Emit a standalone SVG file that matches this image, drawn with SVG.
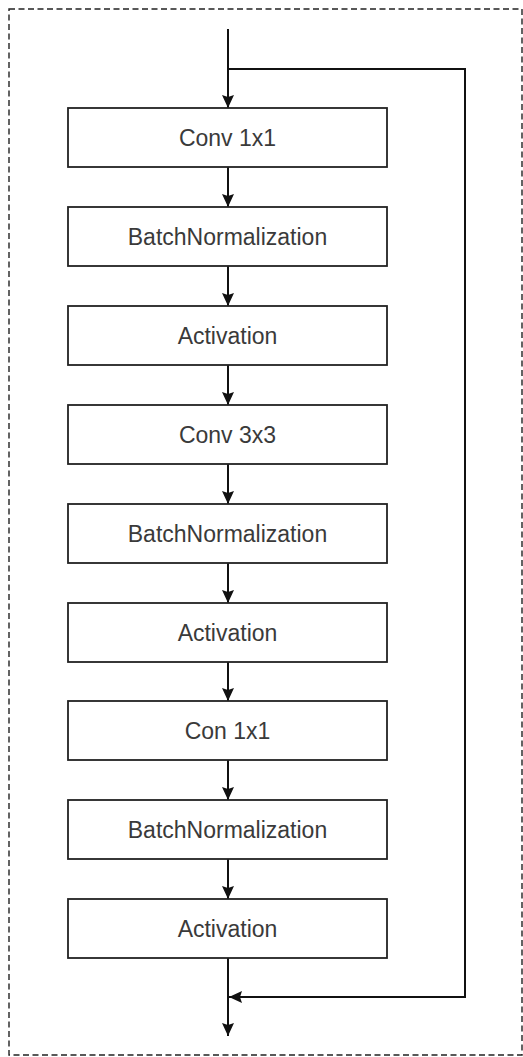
<svg xmlns="http://www.w3.org/2000/svg" width="523" height="1057" viewBox="0 0 523 1057">
<style>
.frame{fill:none;stroke:#222;stroke-width:1.4;stroke-dasharray:6 3.5}
.box rect{fill:#fff;stroke:#222;stroke-width:1.8}
.box text{font-family:"Liberation Sans",Arial,sans-serif;font-size:23px;fill:#3a3a3a;text-anchor:middle}
.conn path{fill:none;stroke:#111;stroke-width:2}
</style>
<defs>
<marker id="ah" viewBox="0 0 13 12" refX="13" refY="6" markerWidth="13" markerHeight="12" markerUnits="userSpaceOnUse" orient="auto">
<path d="M0,0 L13,6 L0,12 L2,6 Z" fill="#111"/>
</marker>
</defs>
<rect class="frame" x="9" y="9" width="513" height="1046"/>
<g class="conn">
<path d="M228,29 V108" marker-end="url(#ah)"/>
<path d="M228,69 H465 V997 H229" marker-end="url(#ah)"/>
<path d="M228,167 V207" marker-end="url(#ah)"/>
<path d="M228,266 V306" marker-end="url(#ah)"/>
<path d="M228,365 V405" marker-end="url(#ah)"/>
<path d="M228,464 V504" marker-end="url(#ah)"/>
<path d="M228,563 V603" marker-end="url(#ah)"/>
<path d="M228,662 V701" marker-end="url(#ah)"/>
<path d="M228,760 V800" marker-end="url(#ah)"/>
<path d="M228,859 V899" marker-end="url(#ah)"/>
<path d="M228,958 V1036" marker-end="url(#ah)"/>
</g>
<g id="n1" class="box"><rect x="68" y="108" width="319" height="59"/><text x="227.5" y="146">Conv 1x1</text></g>
<g id="n2" class="box"><rect x="68" y="207" width="319" height="59"/><text x="227.5" y="245">BatchNormalization</text></g>
<g id="n3" class="box"><rect x="68" y="306" width="319" height="59"/><text x="227.5" y="344">Activation</text></g>
<g id="n4" class="box"><rect x="68" y="405" width="319" height="59"/><text x="227.5" y="443">Conv 3x3</text></g>
<g id="n5" class="box"><rect x="68" y="504" width="319" height="59"/><text x="227.5" y="542">BatchNormalization</text></g>
<g id="n6" class="box"><rect x="68" y="603" width="319" height="59"/><text x="227.5" y="641">Activation</text></g>
<g id="n7" class="box"><rect x="68" y="701" width="319" height="59"/><text x="227.5" y="739">Con 1x1</text></g>
<g id="n8" class="box"><rect x="68" y="800" width="319" height="59"/><text x="227.5" y="838">BatchNormalization</text></g>
<g id="n9" class="box"><rect x="68" y="899" width="319" height="59"/><text x="227.5" y="937">Activation</text></g>
</svg>
